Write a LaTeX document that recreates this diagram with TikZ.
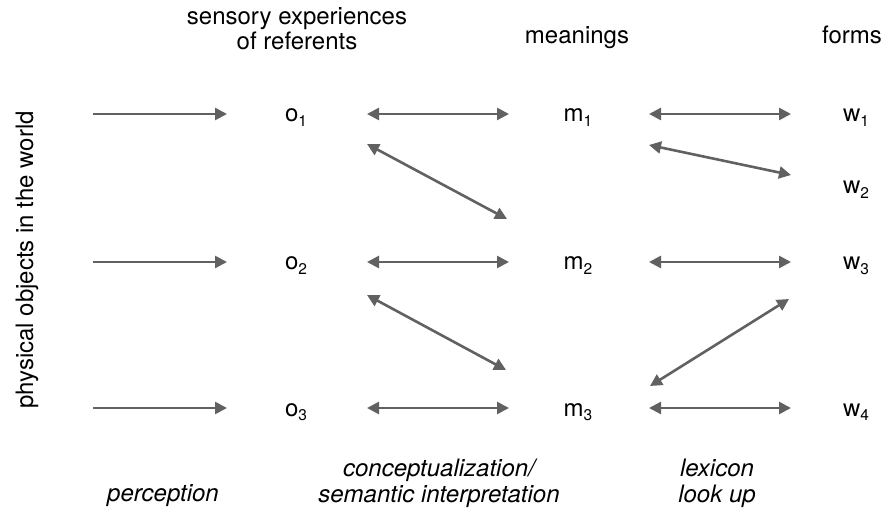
\documentclass[tikz,border=0pt]{standalone}
\usepackage{fontspec}
\setmainfont{TeX Gyre Heros}
\usetikzlibrary{arrows.meta}
\definecolor{arr}{HTML}{616161}
\tikzset{
  lbl/.style={font=\fontsize{24}{25}\selectfont, inner sep=0pt, align=center, anchor=base},
  sym/.style={font=\fontsize{24}{25}\selectfont, inner sep=0pt, anchor=base},
  capt/.style={font=\fontsize{24}{26}\selectfont\itshape, inner sep=0pt, align=center, anchor=base},
  ar/.style={draw=arr, line width=2.6pt, -{Triangle[length=12pt,width=12pt]}},
  bar/.style={draw=arr, line width=2.6pt, {Triangle[length=12pt,width=12pt]}-{Triangle[length=12pt,width=12pt]}}
}
\newcommand{\subsym}[2]{#1\raisebox{-5pt}{\fontsize{15.5}{16}\selectfont #2}}
\begin{document}
\begin{tikzpicture}[x=1pt,y=-1pt]
\useasboundingbox (0,0) rectangle (886,518);
% headers (base anchor = baseline of last line)
\node[lbl] (hs) at (297,50) {sensory experiences\\of referents};
\node[lbl] (hm) at (577,44) {meanings};
\node[lbl] (hf) at (852,44) {forms};
\node[lbl, rotate=90] (phys) at (33,260) {physical objects in the world};
% symbols
\node[sym] (o1) at (296,122) {\subsym{o}{1}};
\node[sym] (o2) at (296,270) {\subsym{o}{2}};
\node[sym] (o3) at (296,416) {\subsym{o}{3}};
\node[sym] (m1) at (578,122) {\subsym{m}{1}};
\node[sym] (m2) at (578,270) {\subsym{m}{2}};
\node[sym] (m3) at (578,416) {\subsym{m}{3}};
\node[sym] (w1) at (856,122) {\subsym{w}{1}};
\node[sym] (w2) at (856,194) {\subsym{w}{2}};
\node[sym] (w3) at (856,270) {\subsym{w}{3}};
\node[sym] (w4) at (856,416) {\subsym{w}{4}};
% coordinates for arrow ends
\coordinate (p1s) at (93,114); \coordinate (p1e) at (227,114);
\coordinate (p2s) at (93,262); \coordinate (p2e) at (227,262);
\coordinate (p3s) at (93,408); \coordinate (p3e) at (227,408);
\coordinate (a1s) at (367,114); \coordinate (a1e) at (509,114);
\coordinate (a2s) at (367,262); \coordinate (a2e) at (509,262);
\coordinate (a3s) at (367,408); \coordinate (a3e) at (509,408);
\coordinate (d1s) at (367,144); \coordinate (d1e) at (507,219);
\coordinate (d2s) at (367,295); \coordinate (d2e) at (506,370);
\coordinate (b1s) at (649,114); \coordinate (b1e) at (791,114);
\coordinate (b2s) at (649,262); \coordinate (b2e) at (791,262);
\coordinate (b3s) at (649,408); \coordinate (b3e) at (791,408);
\coordinate (e1s) at (649,145); \coordinate (e1e) at (791,175);
\coordinate (e2s) at (650,386); \coordinate (e2e) at (789,299);
% arrows
\draw[ar] (p1s) -- (p1e);
\draw[ar] (p2s) -- (p2e);
\draw[ar] (p3s) -- (p3e);
\draw[bar] (a1s) -- (a1e);
\draw[bar] (a2s) -- (a2e);
\draw[bar] (a3s) -- (a3e);
\draw[bar] (d1s) -- (d1e);
\draw[bar] (d2s) -- (d2e);
\draw[bar] (b1s) -- (b1e);
\draw[bar] (b2s) -- (b2e);
\draw[bar] (b3s) -- (b3e);
\draw[bar] (e1s) -- (e1e);
\draw[bar] (e2s) -- (e2e);
% captions (base anchor = baseline of last line)
\node[capt] (cp) at (163,501) {perception};
\node[capt] (cc) at (439,502) {conceptualization/\\semantic interpretation};
\node[capt] (cl) at (717,502) {lexicon\\look up};
\end{tikzpicture}
\end{document}
